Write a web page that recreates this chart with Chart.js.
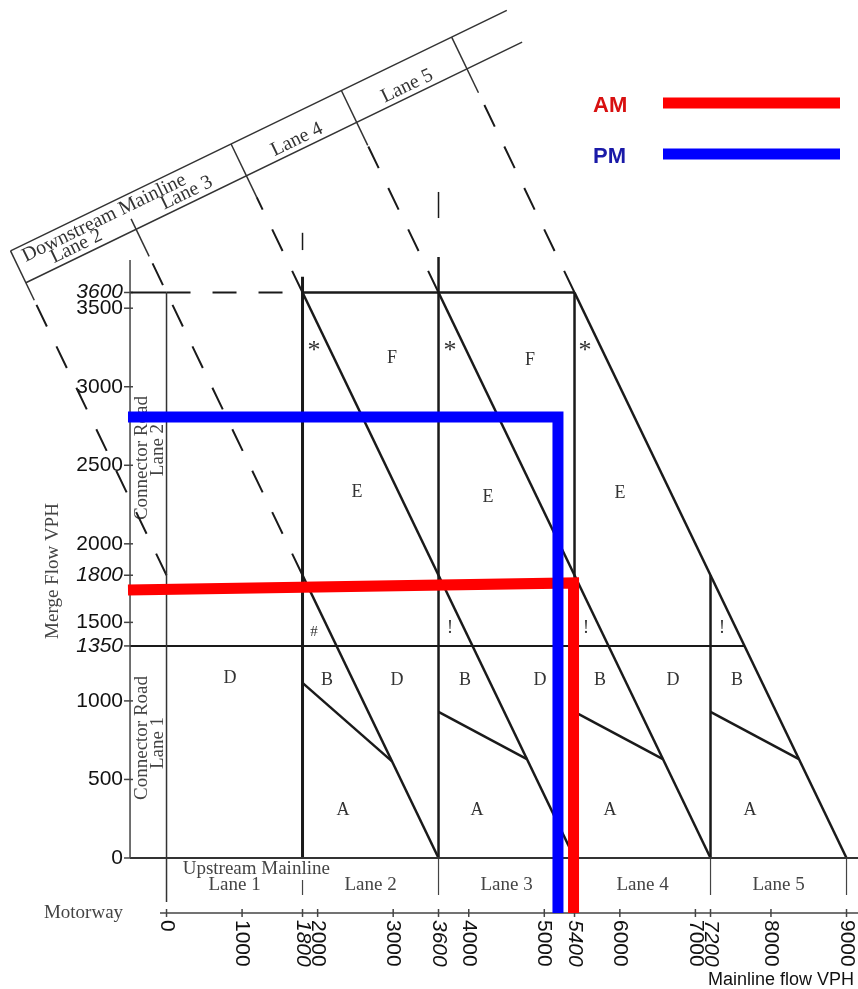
<!DOCTYPE html>
<html>
<head>
<meta charset="utf-8">
<script src="https://cdn.jsdelivr.net/npm/chart.js@4.4.0/dist/chart.umd.min.js"></script>
<style>
  html, body { margin: 0; padding: 0; background: #fff; }
  canvas { display: block; }
</style>
</head>
<body>
<canvas id="chart" width="858" height="989"></canvas>
<script>
// ---- data (VPH) ----
const laneEdges = [0, 1800, 3600, 5400, 7200, 9000];
const laneNames = ['Lane 1', 'Lane 2', 'Lane 3', 'Lane 4', 'Lane 5'];
const xTickValues = [0, 1000, 1800, 2000, 3000, 3600, 4000, 5000, 5400, 6000, 7000, 7200, 8000, 9000];
const yTickValues = [0, 500, 1000, 1350, 1500, 1800, 2000, 2500, 3000, 3500, 3600];
const italicValues = [1350, 1800, 3600, 5400, 7200];
const capacityFlow = 3600;
const mergeLimit = 1350;

// diagonal zone boundaries: start point, each runs down at slope -1 to merge flow 0
const diagStartX = [1800, 1800, 3600, 5400];
const diagStartY = [1800, 3600, 3600, 3600];
// A / B boundary in each lane: start on lane edge, end on the diagonal
const abStartX = [1800, 3600, 5400, 7200];
const abStartY = [1115, 930, 930, 930];
const abEndX = [2985, 4770, 6570, 8370];
const abDiagonal = [3600, 5400, 7200, 9000];

// AM / PM operating points
const amX = [-510, 5387, 5387];
const amY = [1706, 1751, -350];
const pmX = [-510, 5181, 5181];
const pmY = [2807, 2807, -350];

// level of service letters
const zoneText = ['D', '*', 'F', 'E', '#', 'B', 'D', 'A', '*', 'F', 'E', '!', 'B', 'D', 'A', '*', 'E', '!', 'B', 'D', 'A', '!', 'B', 'A'];
const zoneX = [840, 1952, 2985, 2521, 1952, 2124, 3051, 2336, 3752, 4811, 4255, 3752, 3951, 4943, 4109, 5539, 6002, 5552, 5737, 6704, 5870, 7352, 7551, 7723];
const zoneY = [1146, 3253, 3183, 2330, 1439, 1133, 1133, 306, 3253, 3170, 2298, 1464, 1133, 1133, 306, 3253, 2324, 1464, 1133, 1133, 306, 1464, 1133, 306];

// ---- geometry of the frame ----
const Y_AXIS_X = -483;
const X_AXIS_Y = -350;
// rotated downstream banner: lines y = a + b*x, crossing the x+y=c projection lines
const BANNER_A = 4096, BANNER_W = 250, BANNER_B = 0.2332;
function bannerPt(c, t) {
  const a = BANNER_A + BANNER_W * t;
  const x = (c - a) / (1 + BANNER_B);
  return [x, c - x];
}

const INK = '#1a1a1a';
const GREY = '#444';
const DASH = [24, 22];

function seg(points, opts) {
  return Object.assign({
    data: points.map(p => ({x: p[0], y: p[1]})),
    showLine: true,
    pointRadius: 0,
    borderColor: INK,
    borderWidth: 2.5,
    fill: false,
    tension: 0,
    order: 3
  }, opts || {});
}

const datasets = [];

// AM / PM on top
datasets.push(seg(pmX.map((v, i) => [v, pmY[i]]), {label: 'PM', borderColor: '#0000ff', borderWidth: 11, order: 0, borderJoinStyle: 'miter'}));
datasets.push(seg(amX.map((v, i) => [v, amY[i]]), {label: 'AM', borderColor: '#ff0000', borderWidth: 11, order: 1, borderJoinStyle: 'miter'}));

// axes
datasets.push(seg([[Y_AXIS_X, 0], [Y_AXIS_X, 3807]], {borderColor: GREY, borderWidth: 1.5}));
datasets.push(seg([[-86, X_AXIS_Y], [9152, X_AXIS_Y]], {borderColor: GREY, borderWidth: 1.5}));

// base lines
datasets.push(seg([[Y_AXIS_X, 0], [9152, 0]], {borderColor: '#333', borderWidth: 1.8}));
datasets.push(seg([[0, -280], [0, capacityFlow]], {borderColor: '#333', borderWidth: 1.5}));
datasets.push(seg([[Y_AXIS_X, mergeLimit], [7650, mergeLimit]], {borderWidth: 2}));
datasets.push(seg([[Y_AXIS_X, capacityFlow], [0, capacityFlow]], {borderWidth: 2}));
datasets.push(seg([[0, capacityFlow], [1800, capacityFlow]], {borderWidth: 2, borderDash: DASH}));
datasets.push(seg([[1800, capacityFlow], [5400, capacityFlow]], {borderWidth: 2.5}));

// lane verticals
datasets.push(seg([[1800, 0], [1800, 3700]], {borderWidth: 3}));
datasets.push(seg([[1800, 3870], [1800, 3980]], {borderWidth: 1.5}));
datasets.push(seg([[3600, 0], [3600, 3826]], {borderWidth: 2.5}));
datasets.push(seg([[3600, 4074], [3600, 4240]], {borderWidth: 1.5}));
datasets.push(seg([[5400, 0], [5400, capacityFlow]], {borderWidth: 2.5}));
datasets.push(seg([[7200, 0], [7200, 1800]], {borderWidth: 2.5}));
// upstream lane separators under the x axis
[3600, 5400, 7200, 9000].forEach(v => datasets.push(seg([[v, 0], [v, -236]], {borderColor: GREY, borderWidth: 1.2})));
datasets.push(seg([[1800, -140], [1800, -236]], {borderColor: GREY, borderWidth: 1.2}));

// diagonals
diagStartX.forEach((x0, i) => {
  const y0 = diagStartY[i];
  datasets.push(seg([[x0, y0], [x0 + y0, 0]], {borderWidth: 2.5}));
});
abStartX.forEach((x0, i) => {
  datasets.push(seg([[x0, abStartY[i]], [abEndX[i], abDiagonal[i] - abEndX[i]]], {borderWidth: 2.5}));
});

// banner frame
datasets.push(seg([bannerPt(1800, 0), bannerPt(9900, 0)], {borderColor: '#333', borderWidth: 1.5}));
datasets.push(seg([bannerPt(1800, 1), bannerPt(9900, 1)], {borderColor: '#333', borderWidth: 1.5}));
datasets.push(seg([bannerPt(1800, 1), bannerPt(1800, -0.55)], {borderColor: '#333', borderWidth: 1.5}));
const dividerTop = [0.33, 1, 1, 1];
const dividerBottom = [-0.85, -0.67, -0.72, -0.75];
[3600, 5400, 7200, 9000].forEach((c, i) => {
  datasets.push(seg([bannerPt(c, dividerTop[i]), bannerPt(c, dividerBottom[i])], {borderColor: '#333', borderWidth: 1.5}));
});
// dashed projections from the diagram to the banner
datasets.push(seg([[0, 1800], bannerPt(1800, -0.55)], {borderWidth: 2, borderDash: DASH}));
datasets.push(seg([[1800, 1800], bannerPt(3600, -0.85)], {borderWidth: 2, borderDash: DASH}));
datasets.push(seg([[1800, 3600], bannerPt(5400, -0.67)], {borderWidth: 2, borderDash: DASH}));
datasets.push(seg([[3600, 3600], bannerPt(7200, -0.72)], {borderWidth: 2, borderDash: DASH}));
datasets.push(seg([[5400, 3600], bannerPt(9000, -0.75)], {borderWidth: 2, borderDash: DASH}));

const SERIF = '"Liberation Serif", "Times New Roman", serif';
const SANS = '"Liberation Sans", Arial, sans-serif';

const diagramText = {
  id: 'diagramText',
  beforeDatasetsDraw(chart) {
    const {ctx} = chart;
    const x = chart.scales.x, y = chart.scales.y;
    const px = v => x.getPixelForValue(v);
    const py = v => y.getPixelForValue(v);
    ctx.save();

    // y axis ticks
    ctx.strokeStyle = GREY;
    ctx.lineWidth = 1.5;
    ctx.fillStyle = '#111';
    ctx.textAlign = 'right';
    ctx.textBaseline = 'middle';
    yTickValues.forEach(v => {
      ctx.beginPath();
      ctx.moveTo(px(Y_AXIS_X) - 6, py(v));
      ctx.lineTo(px(Y_AXIS_X) + 3, py(v));
      ctx.stroke();
      ctx.font = (italicValues.includes(v) ? 'italic ' : '') + '21px ' + SANS;
      ctx.fillText(String(v), px(Y_AXIS_X) - 7, py(v));
    });

    // x axis ticks, labels turned clockwise
    xTickValues.forEach(v => {
      ctx.beginPath();
      ctx.moveTo(px(v), py(X_AXIS_Y) - 4);
      ctx.lineTo(px(v), py(X_AXIS_Y) + 4);
      ctx.stroke();
      ctx.save();
      ctx.translate(px(v), py(X_AXIS_Y) + 7);
      ctx.rotate(Math.PI / 2);
      ctx.textAlign = 'left';
      ctx.font = (italicValues.includes(v) ? 'italic ' : '') + '21px ' + SANS;
      ctx.fillText(String(v), 0, 0);
      ctx.restore();
    });

    // axis titles
    ctx.fillStyle = '#444';
    ctx.font = '19px ' + SERIF;
    ctx.textAlign = 'center';
    ctx.save();
    ctx.translate(px(-1502), py(1827));
    ctx.rotate(-Math.PI / 2);
    ctx.fillText('Merge Flow VPH', 0, 0);
    ctx.restore();
    ctx.fillText('Motorway', px(-1099), py(X_AXIS_Y));
    ctx.fillStyle = '#111';
    ctx.font = '18px ' + SANS;
    ctx.textAlign = 'left';
    ctx.fillText('Mainline flow VPH', px(7167), py(-777));

    // connector road labels
    ctx.fillStyle = '#444';
    ctx.font = '19px ' + SERIF;
    ctx.textAlign = 'center';
    [[2546, 2597, 'Lane 2'], [764, 732, 'Lane 1']].forEach(r => {
      ctx.save();
      ctx.translate(px(-324), py(r[0]));
      ctx.rotate(-Math.PI / 2);
      ctx.fillText('Connector Road', 0, 0);
      ctx.restore();
      ctx.save();
      ctx.translate(px(-112), py(r[1]));
      ctx.rotate(-Math.PI / 2);
      ctx.fillText(r[2], 0, 0);
      ctx.restore();
    });

    // upstream lanes
    ctx.fillText('Upstream Mainline', px(1188), py(-70));
    laneNames.forEach((name, i) => {
      ctx.fillText(name, px((laneEdges[i] + laneEdges[i + 1]) / 2), py(-172));
    });

    // downstream banner
    const p0 = bannerPt(1800, 0), p1 = bannerPt(9900, 0);
    const ang = Math.atan2(py(p1[1]) - py(p0[1]), px(p1[0]) - px(p0[0]));
    const bannerText = (t, c, tt) => {
      const p = bannerPt(c, tt);
      ctx.save();
      ctx.translate(px(p[0]), py(p[1]));
      ctx.rotate(ang);
      ctx.fillText(t, 0, 0);
      ctx.restore();
    };
    ctx.fillStyle = '#333';
    ctx.font = '20px ' + SERIF;
    bannerText('Downstream Mainline', 3250, 0.68);
    laneNames.slice(1).forEach((name, i) => {
      bannerText(name, (laneEdges[i + 1] + laneEdges[i + 2]) / 2, 0.3);
    });

    // zone letters
    ctx.fillStyle = '#333';
    zoneText.forEach((t, i) => {
      ctx.font = (t === '*' ? '26px ' : t === '#' ? '15px ' : '18px ') + SERIF;
      ctx.fillText(t, px(zoneX[i]), py(zoneY[i]) + (t === '*' ? 4 : 0));
    });
    ctx.restore();
  },
  afterDatasetsDraw(chart) {
    const {ctx} = chart;
    ctx.save();
    ctx.textBaseline = 'middle';
    ctx.textAlign = 'left';
    ctx.font = 'bold 22px ' + SANS;
    ctx.lineCap = 'butt';
    ctx.lineWidth = 11;
    ctx.fillStyle = '#d81010';
    ctx.fillText('AM', 593, 106);
    ctx.strokeStyle = '#ff0000';
    ctx.beginPath(); ctx.moveTo(663, 103); ctx.lineTo(840, 103); ctx.stroke();
    ctx.fillStyle = '#1a1aa8';
    ctx.fillText('PM', 593, 157);
    ctx.strokeStyle = '#0000ff';
    ctx.beginPath(); ctx.moveTo(663, 154); ctx.lineTo(840, 154); ctx.stroke();
    ctx.restore();
  }
};

new Chart(document.getElementById('chart'), {
  type: 'scatter',
  data: {datasets: datasets},
  options: {
    responsive: false,
    animation: false,
    layout: {padding: 0},
    scales: {
      x: {type: 'linear', display: false, min: -2204, max: 9152},
      y: {type: 'linear', display: false, min: -834, max: 5462}
    },
    plugins: {
      legend: {display: false},
      tooltip: {enabled: false}
    }
  },
  plugins: [diagramText]
});
</script>
</body>
</html>
